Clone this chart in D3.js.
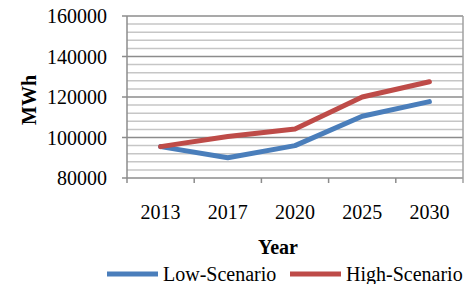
<!DOCTYPE html>
<html lang="en">
<head>
<meta charset="UTF-8">
<title>MWh scenarios</title>
<script src="https://d3js.org/d3.v7.min.js"></script>
<style>
	body { margin: 0; background: #fff; }
	svg { display: block; }
	text { font-family: "Liberation Serif", "Times New Roman", serif; fill: #000; }
</style>
</head>
<body>
<script>
	var years = ["2013", "2017", "2020", "2025", "2030"];
	var lowScenario = [95500, 90000, 96000, 110500, 117700];
	var highScenario = [95500, 100500, 104200, 120000, 127500];
	var yTicks = [80000, 100000, 120000, 140000, 160000];
	var seriesNames = ["Low-Scenario", "High-Scenario"];
	var seriesColors = ["#4a7ebb", "#be4b48"];

	var width = 472, height = 284;
	// plot area edges (window.top is taken, so own names)
	var plotL = 127, plotR = 463, plotT = 16, plotB = 178;

	var svg = d3.select("body").append("svg")
		.attr("width", width)
		.attr("height", height);

	var x = d3.scaleBand().domain(years).range([plotL, plotR]);
	var y = d3.scaleLinear().domain([80000, 160000]).range([plotB, plotT]);

	// minor gridlines every 4000
	svg.append("g")
		.selectAll("line")
		.data(d3.range(84000, 160000, 4000).filter(function (d) { return d % 20000 !== 0; }))
		.enter().append("line")
		.attr("x1", plotL).attr("x2", plotR)
		.attr("y1", function (d) { return y(d); })
		.attr("y2", function (d) { return y(d); })
		.style("stroke", "#c6c6c6")
		.style("stroke-width", 1.5);

	// major gridlines
	svg.append("g")
		.selectAll("line")
		.data(yTicks)
		.enter().append("line")
		.attr("x1", plotL - 5).attr("x2", plotR)
		.attr("y1", function (d) { return y(d); })
		.attr("y2", function (d) { return y(d); })
		.style("stroke", "#8c8c8c")
		.style("stroke-width", 1.5);

	// right border + left axis
	svg.append("line")
		.attr("x1", plotR).attr("x2", plotR)
		.attr("y1", plotT).attr("y2", plotB + 5)
		.style("stroke", "#a0a0a0").style("stroke-width", 1.5);
	svg.append("line")
		.attr("x1", plotL).attr("x2", plotL)
		.attr("y1", plotT).attr("y2", plotB + 5)
		.style("stroke", "#8c8c8c").style("stroke-width", 1.5);

	// x tick marks at band edges
	svg.append("g")
		.selectAll("line")
		.data(years.slice(1))
		.enter().append("line")
		.attr("x1", function (d) { return x(d); })
		.attr("x2", function (d) { return x(d); })
		.attr("y1", plotB).attr("y2", plotB + 5)
		.style("stroke", "#8c8c8c").style("stroke-width", 1.5);

	// y labels
	svg.append("g")
		.selectAll("text")
		.data(yTicks)
		.enter().append("text")
		.attr("x", 107)
		.attr("y", function (d) { return y(d) + 7; })
		.attr("text-anchor", "end")
		.style("font-size", "20px")
		.text(function (d) { return d; });

	// x labels
	svg.append("g")
		.selectAll("text")
		.data(years)
		.enter().append("text")
		.attr("x", function (d) { return x(d) + x.bandwidth() / 2; })
		.attr("y", 219)
		.attr("text-anchor", "middle")
		.style("font-size", "20px")
		.text(function (d) { return d; });

	// axis titles
	svg.append("text")
		.attr("transform", "translate(36,100) rotate(-90)")
		.attr("text-anchor", "middle")
		.style("font-size", "20px")
		.style("font-weight", "bold")
		.text("MWh");

	svg.append("text")
		.attr("x", 278).attr("y", 254)
		.attr("text-anchor", "middle")
		.style("font-size", "20px")
		.style("font-weight", "bold")
		.text("Year");

	// lines
	var line = d3.line()
		.x(function (d, i) { return x(years[i]) + x.bandwidth() / 2; })
		.y(function (d) { return y(d); });

	[lowScenario, highScenario].forEach(function (s, i) {
		svg.append("path")
			.datum(s)
			.attr("d", line)
			.style("fill", "none")
			.style("stroke", seriesColors[i])
			.style("stroke-width", 5)
			.style("stroke-linecap", "round")
			.style("stroke-linejoin", "round");
	});

	// legend
	var legendX = [107, 290];
	seriesNames.forEach(function (name, i) {
		svg.append("line")
			.attr("x1", legendX[i]).attr("x2", legendX[i] + 51)
			.attr("y1", 274).attr("y2", 274)
			.style("stroke", seriesColors[i])
			.style("stroke-width", 5);
		svg.append("text")
			.attr("x", legendX[i] + 56)
			.attr("y", 281)
			.style("font-size", "20px")
			.text(name);
	});
</script>
</body>
</html>
